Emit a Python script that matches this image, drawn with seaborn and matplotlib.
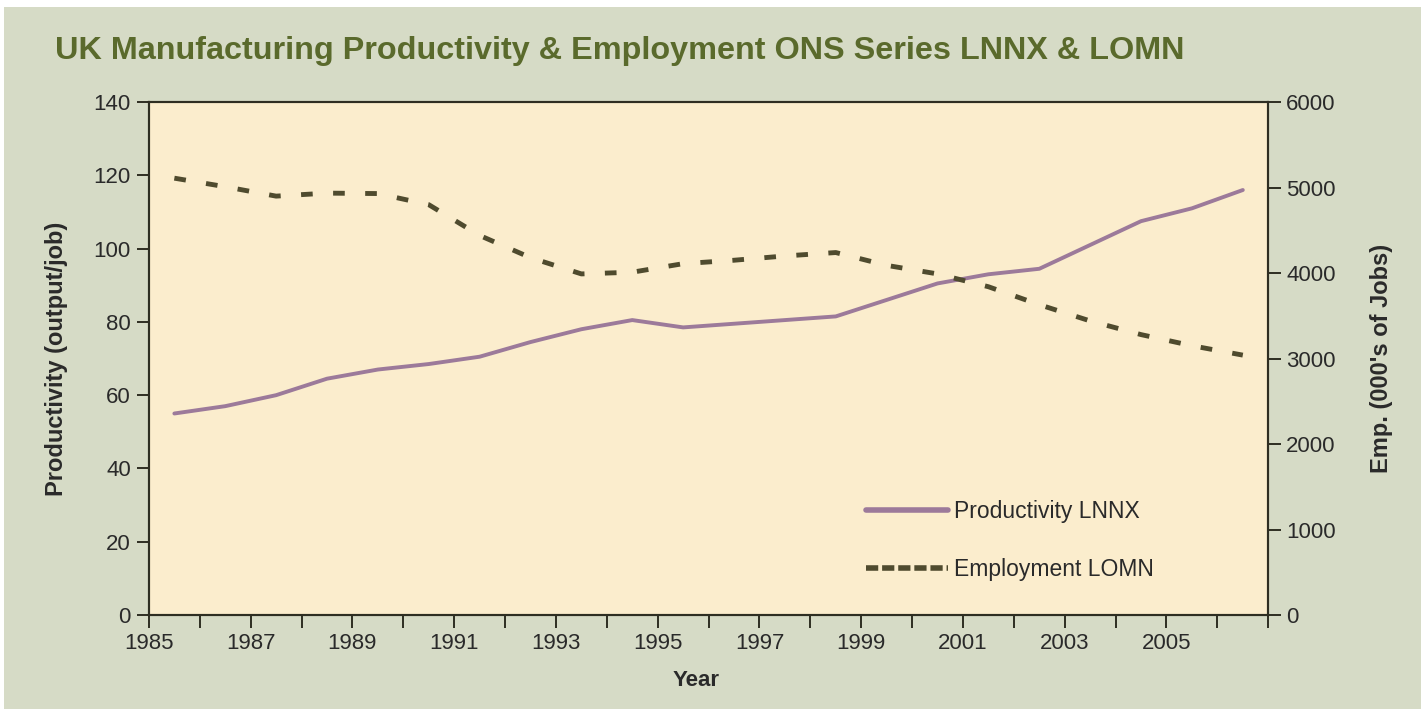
import matplotlib
matplotlib.use("Agg")
import matplotlib.pyplot as plt
import matplotlib.patches as mpatches
import seaborn as sns
import pandas as pd

years = [1985.5, 1986.5, 1987.5, 1988.5, 1989.5, 1990.5, 1991.5, 1992.5, 1993.5, 1994.5,
         1995.5, 1996.5, 1997.5, 1998.5, 1999.5, 2000.5, 2001.5, 2002.5, 2003.5, 2004.5,
         2005.5, 2006.5]
productivity = [55, 57, 60, 64.5, 67, 68.5, 70.5, 74.5, 78, 80.5,
                78.5, 79.5, 80.5, 81.5, 86, 90.5, 93, 94.5, 101, 107.5,
                111, 116]
employment = [5110, 5010, 4900, 4935, 4930, 4800, 4440, 4180, 3990, 4010,
              4110, 4150, 4200, 4240, 4090, 3990, 3840, 3630, 3440, 3280,
              3150, 3040]
xtick_years = list(range(1985, 2008))
xtick_labels = [str(y) if (y % 2 == 1 and y <= 2005) else "" for y in xtick_years]
left_ticks = [0, 20, 40, 60, 80, 100, 120, 140]
right_ticks = [0, 1000, 2000, 3000, 4000, 5000, 6000]

df = pd.DataFrame({"Year": years, "Productivity": productivity, "Employment": employment})

sns.set_style("ticks")
plt.rcParams["font.family"] = ["Liberation Sans", "DejaVu Sans"]

outer_bg = "#D6DBC6"
plot_bg = "#FBEDCD"
title_col = "#5A6A2C"
axis_col = "#2E2E22"
text_col = "#2A2A2A"
prod_col = "#9C7A9A"
emp_col = "#4F4B2E"

fig = plt.figure(figsize=(14.25, 7.09), dpi=100, facecolor="white")
fig.patches.append(mpatches.Rectangle((0.003, 0.0), 0.994, 0.99, transform=fig.transFigure,
                                      facecolor=outer_bg, edgecolor="none", zorder=-10))
ax = fig.add_axes([0.1045, 0.1326, 0.7855, 0.7234])
ax.set_facecolor(plot_bg)
ax2 = ax.twinx()

sns.lineplot(data=df, x="Year", y="Productivity", ax=ax, color=prod_col, linewidth=2.8,
             label="Productivity LNNX", legend=False)
sns.lineplot(data=df, x="Year", y="Employment", ax=ax2, color=emp_col, linewidth=3.5,
             linestyle=(0, (2.4, 4.2)), label="Employment LOMN", legend=False)

ax.set_xlim(1985, 2007)
ax.set_ylim(0, 140)
ax2.set_ylim(0, 6000)
ax.set_xticks(xtick_years)
ax.set_xticklabels(xtick_labels)
ax.set_yticks(left_ticks)
ax2.set_yticks(right_ticks)

for a in (ax, ax2):
    for s in a.spines.values():
        s.set_visible(True)
        s.set_color(axis_col)
        s.set_linewidth(1.5)
    a.tick_params(axis="both", direction="out", length=9, width=1.4, color=axis_col,
                  labelsize=16, labelcolor=text_col, pad=4)

ax.set_xlabel("Year", fontsize=16, fontweight="bold", color=text_col)
ax.set_ylabel("Productivity (output/job)", fontsize=17, fontweight="bold", color=text_col)
ax2.set_ylabel("Emp. (000's of Jobs)", fontsize=17, fontweight="bold", color=text_col)
ax.xaxis.set_label_coords(0.489, -0.107)
ax.yaxis.set_label_coords(-0.072, 0.5)
ax2.yaxis.set_label_coords(1.091, 0.5)

fig.text(55 / 1425, 1 - 51 / 709, "UK Manufacturing Productivity & Employment ONS Series LNNX & LOMN",
         fontsize=23.3, fontweight="bold", color=title_col, ha="left", va="center")

h1, l1 = ax.get_legend_handles_labels()
h2, l2 = ax2.get_legend_handles_labels()
leg = ax2.legend(h1 + h2, l1 + l2, loc="upper left", bbox_to_anchor=(0.632, 0.243), frameon=False,
                 fontsize=16.5, handlelength=3.6, handletextpad=0.25, labelspacing=1.55,
                 borderaxespad=0.0)
for t in leg.get_texts():
    t.set_color(text_col)
leg_lines = leg.get_lines()
leg_lines[0].set_linewidth(4.0)
leg_lines[1].set_linewidth(4.0)
leg_lines[1].set_dashes((2.2, 0.7))

fig.savefig("out.png", dpi=100, facecolor=fig.get_facecolor())
